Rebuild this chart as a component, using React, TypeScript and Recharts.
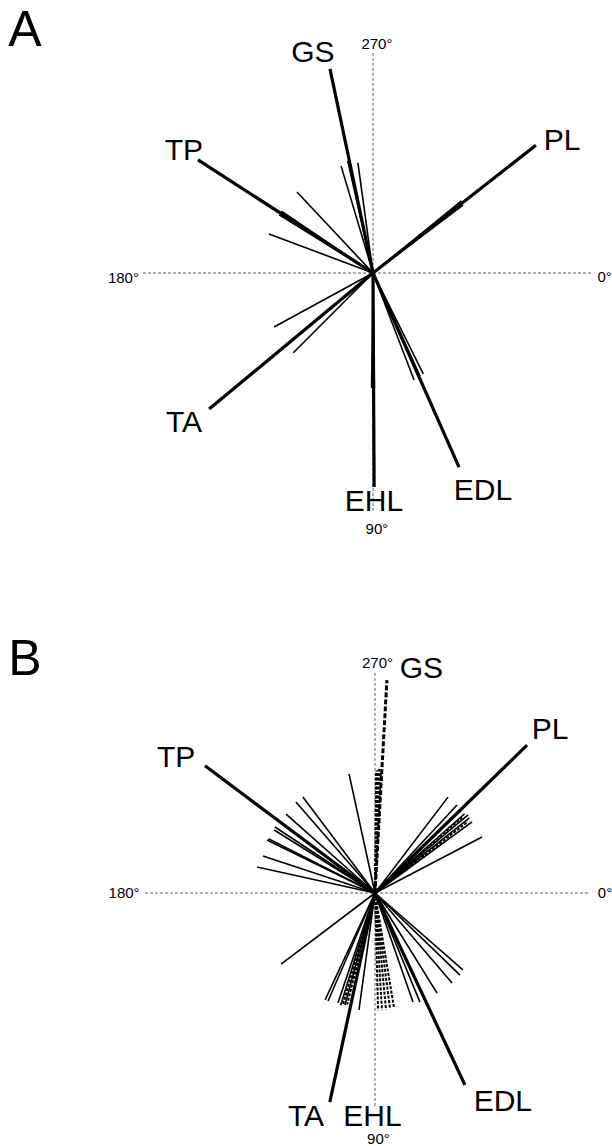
import { ReferenceDot, ReferenceLine, Scatter, ScatterChart, XAxis, YAxis } from 'recharts'

// angles in degrees (0° = right, 90° = down, 180° = left, 270° = up),
// lengths relative to the axis half-length

// ---- panel A ----
const A_MEAN_NAMES = ['GS', 'PL', 'TP', 'TA', 'EHL', 'EDL']
const A_MEAN_ANGLES = [258.1, 321.9, 212.9, 140.3, 89.7, 66.1]
const A_MEAN_LENGTHS = [0.907, 0.9, 0.906, 0.926, 0.93, 0.923]
const A_TRIAL_ANGLES = [253.4, 262.2, 257.3, 226.8, 200.6, 151.4, 135.0, 69.0, 320.8, 323.0, 211.8, 214.0, 89.3, 90.7, 63.5, 65.5]
const A_TRIAL_LENGTHS = [0.486, 0.483, 0.5, 0.483, 0.483, 0.49, 0.49, 0.498, 0.496, 0.49, 0.48, 0.48, 0.5, 0.5, 0.49, 0.493]

// ---- panel B ----
const B_MEAN_NAMES = ['PL', 'TP', 'TA', 'EDL']
const B_MEAN_ANGLES = [315.8, 216.8, 102.2, 64.9]
const B_MEAN_LENGTHS = [0.922, 0.923, 0.93, 0.922]
const B_DASHED_MEAN_NAMES = ['GS']
const B_DASHED_MEAN_ANGLES = [273.2]
const B_DASHED_MEAN_LENGTHS = [0.927]
const B_TRIAL_ANGLES = [
  233.1, 229.0, 221.6, 213.4, 212.0, 206.1, 207.0, 198.3, 192.4, 257.7,
  307.3, 313.0, 318.5, 320.0, 321.5, 323.8, 332.4,
  142.9, 115.0, 113.5, 108.6, 107.0, 105.0, 97.8,
  41.2, 44.0, 49.4, 58.2, 67.6, 70.8,
]
const B_TRIAL_LENGTHS = [
  0.522, 0.524, 0.517, 0.521, 0.517, 0.523, 0.52, 0.513, 0.525, 0.53,
  0.524, 0.523, 0.52, 0.528, 0.525, 0.523, 0.525,
  0.512, 0.513, 0.512, 0.504, 0.51, 0.504, 0.513,
  0.508, 0.514, 0.515, 0.512, 0.513, 0.502,
]
const B_DASHED_TRIAL_ANGLES = [270.5, 271.2, 272.0, 272.8, 88.5, 86.6, 84.6, 82.6, 80.6, 319.0, 322.5, 104.0, 106.0]
const B_DASHED_TRIAL_LENGTHS = [0.53, 0.535, 0.54, 0.53, 0.51, 0.51, 0.51, 0.505, 0.505, 0.5, 0.51, 0.5, 0.505]

const W = 612
const H = 573
const UNIT = 230

type LineStyle = { width: number; dash?: string }
const THICK: LineStyle = { width: 3.2 }
const THIN: LineStyle = { width: 1.6 }
const THICK_DASHED: LineStyle = { width: 3, dash: '5 2' }
const THIN_DASHED: LineStyle = { width: 2, dash: '3 1.5' }

const toXY = (angle: number, len: number) => {
  const a = (angle * Math.PI) / 180
  return { x: len * Math.cos(a), y: -len * Math.sin(a) }
}

const noDot = () => <g />

function vectors(key: string, angles: number[], lengths: number[], st: LineStyle) {
  return angles.map((ang, i) => (
    <Scatter
      key={`${key}-${i}`}
      data={[{ x: 0, y: 0 }, toXY(ang, lengths[i])]}
      line={{ stroke: '#000', strokeWidth: st.width, strokeDasharray: st.dash }}
      lineType="joint"
      shape={noDot}
      fill="#000"
      isAnimationActive={false}
    />
  ))
}

type Lbl = { text: string; x: number; y: number; size: number }

function labels(key: string, list: Lbl[]) {
  return list.map((l, i) => (
    <ReferenceDot
      key={`${key}-${i}`}
      x={l.x}
      y={l.y}
      r={0}
      ifOverflow="visible"
      label={{ value: l.text, position: 'center', fontSize: l.size, fill: '#000' }}
    />
  ))
}

function axisLines(hx: [number, number], vy: [number, number]) {
  const common = { stroke: '#333', strokeWidth: 0.8, strokeDasharray: '3 2' }
  return [
    <ReferenceLine key="h" segment={[{ x: hx[0], y: 0 }, { x: hx[1], y: 0 }]} {...common} />,
    <ReferenceLine key="v" segment={[{ x: 0, y: vy[0] }, { x: 0, y: vy[1] }]} {...common} />,
  ]
}

const BIG = 30
const DEG = 15
const LETTER = 50

const A_LABEL_POS = [
  { x: -0.261, y: 0.963 }, { x: 0.822, y: 0.583 }, { x: -0.822, y: 0.539 },
  { x: -0.822, y: -0.643 }, { x: 0.004, y: -0.987 }, { x: 0.478, y: -0.939 },
]
const B_LABEL_POS = [
  { x: 0.761, y: 0.717 }, { x: -0.865, y: 0.596 }, { x: -0.3, y: -0.965 }, { x: 0.556, y: -0.9 },
]

export default function App() {
  const labelsA: Lbl[] = [
    { text: 'A', x: -1.513, y: 1.065, size: LETTER },
    ...A_MEAN_NAMES.map((t, i) => ({ text: t, ...A_LABEL_POS[i], size: BIG })),
    { text: '270°', x: 0.017, y: 0.998, size: DEG },
    { text: '90°', x: 0.017, y: -1.113, size: DEG },
    { text: '180°', x: -1.085, y: -0.02, size: DEG },
    { text: '0°', x: 1.007, y: -0.015, size: DEG },
  ]
  const labelsB: Lbl[] = [
    { text: 'B', x: -1.522, y: 1.026, size: LETTER },
    ...B_MEAN_NAMES.map((t, i) => ({ text: t, ...B_LABEL_POS[i], size: BIG })),
    { text: B_DASHED_MEAN_NAMES[0], x: 0.202, y: 0.98, size: BIG },
    { text: 'EHL', x: -0.011, y: -0.965, size: BIG },
    { text: '270°', x: 0.011, y: 1.002, size: DEG },
    { text: '90°', x: 0.015, y: -1.07, size: DEG },
    { text: '180°', x: -1.091, y: 0, size: DEG },
    { text: '0°', x: 1.0, y: 0, size: DEG },
  ]

  return (
    <div
      style={{
        position: 'absolute', left: 0, top: 0, width: W, height: H * 2,
        background: '#fff', fontFamily: '"Liberation Sans", Arial, sans-serif',
      }}
    >
      {/* panel A: centre at (373, 273) */}
      <ScatterChart width={W} height={H} margin={{ top: 273 - 1.05 * UNIT, bottom: H - 273 - 1.2 * UNIT, left: 143, right: W - 143 - 2 * UNIT }}>
        <XAxis type="number" dataKey="x" domain={[-1, 1]} hide allowDataOverflow />
        <YAxis type="number" dataKey="y" domain={[-1.2, 1.05]} hide allowDataOverflow />
        {axisLines([-1, 0.952], [0.957, -1.043])}
        {vectors('at', A_TRIAL_ANGLES, A_TRIAL_LENGTHS, THIN)}
        {vectors('am', A_MEAN_ANGLES, A_MEAN_LENGTHS, THICK)}
        {labels('al', labelsA)}
      </ScatterChart>

      {/* panel B: centre at (375, 320) in this chart */}
      <ScatterChart width={W} height={H} margin={{ top: 320 - 1.2 * UNIT, bottom: H - 320 - 1.05 * UNIT, left: 145, right: W - 145 - 2 * UNIT }}>
        <XAxis type="number" dataKey="x" domain={[-1, 1]} hide allowDataOverflow />
        <YAxis type="number" dataKey="y" domain={[-1.05, 1.2]} hide allowDataOverflow />
        {axisLines([-1, 0.935], [0.957, -0.93])}
        {vectors('bt', B_TRIAL_ANGLES, B_TRIAL_LENGTHS, THIN)}
        {vectors('bd', B_DASHED_TRIAL_ANGLES, B_DASHED_TRIAL_LENGTHS, THIN_DASHED)}
        {vectors('bm', B_MEAN_ANGLES, B_MEAN_LENGTHS, THICK)}
        {vectors('bg', B_DASHED_MEAN_ANGLES, B_DASHED_MEAN_LENGTHS, THICK_DASHED)}
        {labels('bl', labelsB)}
      </ScatterChart>
    </div>
  )
}
